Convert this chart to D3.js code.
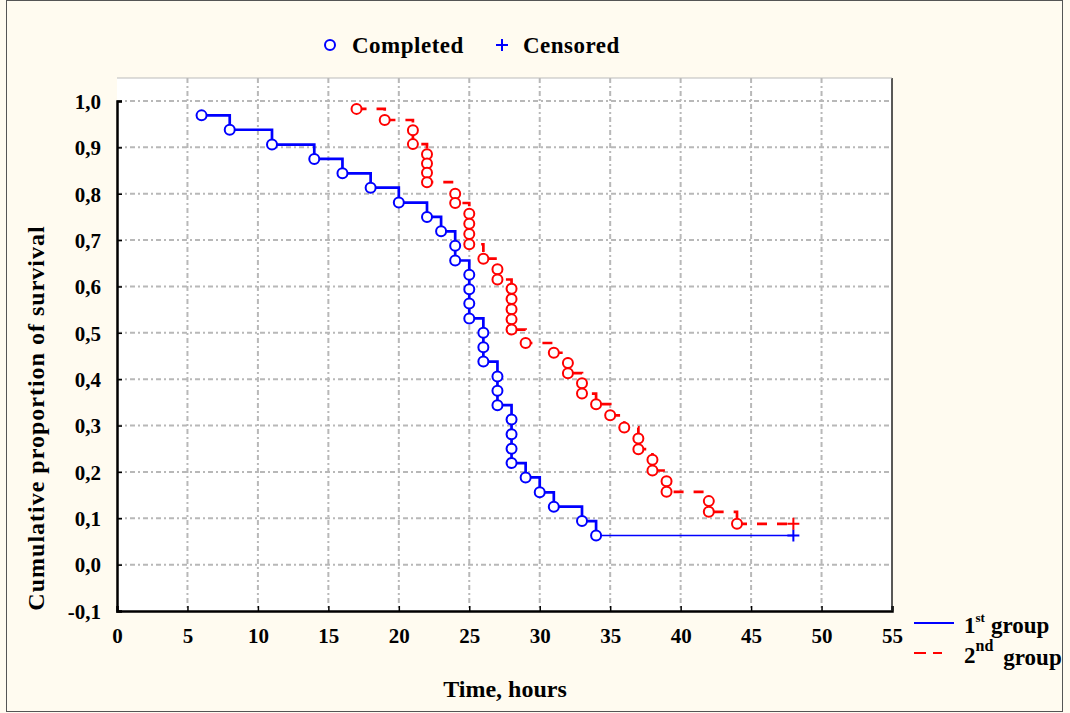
<!DOCTYPE html>
<html>
<head>
<meta charset="utf-8">
<script src="https://cdn.jsdelivr.net/npm/d3@7"></script>
<style>
  body { margin: 0; background: #fffbf0; }
  svg { display: block; }
  text { font-family: "Liberation Serif", "Times New Roman", serif; font-weight: bold; fill: #000; }
</style>
</head>
<body>
<svg id="svg" width="1070" height="713"></svg>
<script>
// group 1 (blue, solid): event times and survival at each event
var g1Times = [6,8,11,14,16,18,20,22,23,24,24,25,25,25,25,26,26,26,27,27,27,28,28,28,28,29,30,31,33,34];
var g1Surv  = [0.969,0.938,0.906,0.875,0.844,0.813,0.781,0.750,0.719,0.688,0.656,0.625,0.594,0.563,0.531,
               0.500,0.469,0.438,0.406,0.375,0.344,0.313,0.281,0.250,0.219,0.188,0.156,0.125,0.094,0.063];
var g1Censor = [[48, 0.063]];

// group 2 (red, dashed)
var g2Times = [17,19,21,21,22,22,22,22,24,24,25,25,25,25,26,27,27,28,28,28,28,28,29,31,32,32,33,33,34,35,36,37,37,38,38,39,39,42,42,44];
var g2Surv  = [0.983,0.959,0.937,0.907,0.885,0.865,0.845,0.825,0.800,0.780,0.757,0.735,0.713,0.691,0.660,
               0.637,0.615,0.595,0.573,0.551,0.529,0.507,0.478,0.457,0.435,0.413,0.391,0.369,0.346,0.322,0.296,
               0.272,0.249,0.226,0.203,0.180,0.157,0.137,0.114,0.088];
var g2Censor = [[48, 0.088]];

var xTicks = [0,5,10,15,20,25,30,35,40,45,50,55];
var yTicks = [-0.1,0,0.1,0.2,0.3,0.4,0.5,0.6,0.7,0.8,0.9,1.0];

var svg = d3.select("#svg");
var x = d3.scaleLinear().domain([0, 55]).range([117, 892]);
var y = d3.scaleLinear().domain([-0.1, 1.0]).range([611, 101]);
var plotTop = 78;

// outer frame
svg.append("rect").attr("x", 6.5).attr("y", 0.5).attr("width", 1056).attr("height", 711)
  .attr("fill", "#fffbf0").attr("stroke", "#555").attr("stroke-width", 1);

// plot area
svg.append("rect").attr("x", x(0)).attr("y", plotTop).attr("width", x(55) - x(0)).attr("height", y(-0.1) - plotTop)
  .attr("fill", "#fff");

// grid
var grid = svg.append("g").attr("stroke", "#b8b8b8").attr("stroke-width", 2).attr("stroke-dasharray", "5,3,2,3");
grid.selectAll(".gx").data(xTicks.slice(1, -1)).enter().append("line")
  .attr("x1", function(d) { return x(d); }).attr("x2", function(d) { return x(d); })
  .attr("y1", plotTop).attr("y2", y(-0.1));
grid.selectAll(".gy").data(yTicks.slice(1)).enter().append("line")
  .attr("y1", function(d) { return y(d); }).attr("y2", function(d) { return y(d); })
  .attr("x1", x(0)).attr("x2", x(55));

// axes
var fmt = function(d) { return d3.format(".1f")(d).replace(".", ",").replace("\u2212", "-"); };
var xAxis = d3.axisBottom(x).tickValues(xTicks).tickSize(-5).tickPadding(14).tickFormat(d3.format("d"));
var yAxis = d3.axisLeft(y).tickValues(yTicks).tickSize(-5).tickPadding(16).tickFormat(fmt);
var gx = svg.append("g").attr("transform", "translate(0," + y(-0.1) + ")").call(xAxis);
var gy = svg.append("g").attr("transform", "translate(" + x(0) + ",0)").call(yAxis);
[gx, gy].forEach(function(g) {
  g.select(".domain").attr("stroke", "#000").attr("stroke-width", 2.5);
  g.selectAll(".tick line").attr("stroke", "#000").attr("stroke-width", 1.5);
  g.selectAll("text").attr("font-family", "Liberation Serif").attr("font-weight", "bold").attr("font-size", 21).attr("fill", "#000");
});
gx.selectAll("text").attr("dy", "0.85em");
gy.selectAll("text").attr("dy", "0.35em");
// right / top edge of plot
svg.append("line").attr("x1", x(55)).attr("x2", x(55)).attr("y1", plotTop).attr("y2", y(-0.1)).attr("stroke", "#222").attr("stroke-width", 1.5);
svg.append("line").attr("x1", x(0)).attr("x2", x(55)).attr("y1", plotTop).attr("y2", plotTop).attr("stroke", "#bbb").attr("stroke-width", 1);

// axis titles
svg.append("text").attr("x", 505).attr("y", 697).attr("text-anchor", "middle").attr("font-size", 24).text("Time, hours");
svg.append("text").attr("transform", "translate(44,418) rotate(-90)").attr("text-anchor", "middle")
  .attr("font-size", 24).attr("letter-spacing", 1).text("Cumulative proportion of survival");

// survival curves
function drawGroup(times, surv, cens, color, dash) {
  var pts = times.map(function(t, i) { return [t, surv[i]]; });
  var line = d3.line().x(function(d) { return x(d[0]); }).y(function(d) { return y(d[1]); }).curve(d3.curveStepAfter);
  svg.append("path").datum(pts).attr("d", line).attr("fill", "none").attr("stroke", color)
    .attr("stroke-width", 2.7).attr("stroke-dasharray", dash);
  var last = pts[pts.length - 1];
  svg.append("path").datum([last, cens[0]]).attr("d", line).attr("fill", "none").attr("stroke", color)
    .attr("stroke-width", dash ? 2.7 : 1.5).attr("stroke-dasharray", dash);
  svg.selectAll(null).data(pts).enter().append("circle")
    .attr("cx", function(d) { return x(d[0]); }).attr("cy", function(d) { return y(d[1]); })
    .attr("r", 5).attr("fill", "#fff").attr("stroke", color).attr("stroke-width", 2);
  svg.selectAll(null).data(cens).enter().append("path")
    .attr("d", function(d) { var cx = x(d[0]), cy = y(d[1]); return "M" + (cx - 6) + "," + cy + "H" + (cx + 6) + "M" + cx + "," + (cy - 6) + "V" + (cy + 6); })
    .attr("stroke", color).attr("stroke-width", 2).attr("fill", "none");
}
drawGroup(g1Times, g1Surv, g1Censor, "#0000ff", null);
drawGroup(g2Times, g2Surv, g2Censor, "#ff0000", "10,10");

// top legend
svg.append("circle").attr("cx", 330).attr("cy", 45).attr("r", 5).attr("fill", "#fff").attr("stroke", "#0000ff").attr("stroke-width", 2);
svg.append("text").attr("x", 352).attr("y", 53).attr("font-size", 23).attr("letter-spacing", 0.5).text("Completed");
svg.append("path").attr("d", "M496,45H508M502,39V51").attr("stroke", "#0000ff").attr("stroke-width", 2);
svg.append("text").attr("x", 523).attr("y", 53).attr("font-size", 23).attr("letter-spacing", 0.5).text("Censored");

// right legend
svg.append("line").attr("x1", 914).attr("x2", 954).attr("y1", 623).attr("y2", 623).attr("stroke", "#0000ff").attr("stroke-width", 2);
svg.append("line").attr("x1", 914).attr("x2", 942).attr("y1", 653).attr("y2", 653).attr("stroke", "#ff0000").attr("stroke-width", 2).attr("stroke-dasharray", "12,7");
var l1 = svg.append("text").attr("x", 964).attr("y", 633).attr("font-size", 23);
l1.append("tspan").text("1");
l1.append("tspan").attr("font-size", 13).attr("dy", -11).text("st");
l1.append("tspan").attr("dy", 11).attr("dx", 6).text("group");
var l2 = svg.append("text").attr("x", 964).attr("y", 663).attr("font-size", 23);
l2.append("tspan").text("2");
l2.append("tspan").attr("font-size", 16).attr("dy", -12).text("nd");
l2.append("tspan").attr("dy", 14).attr("dx", 10).text("group");
</script>
</body>
</html>
